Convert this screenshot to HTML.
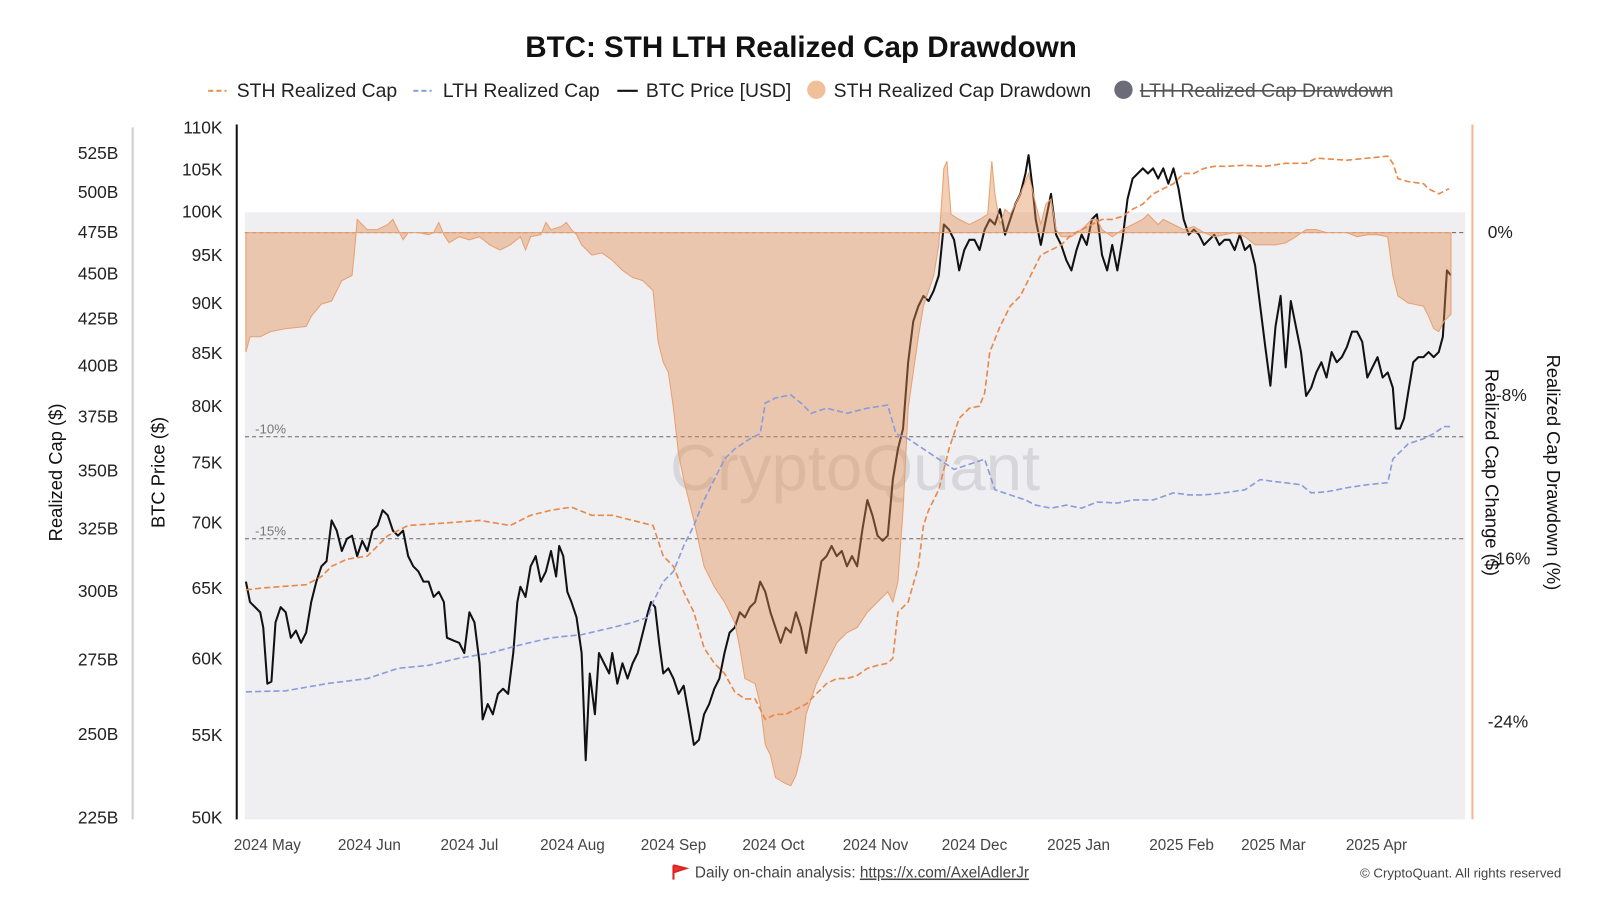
<!DOCTYPE html>
<html><head><meta charset="utf-8"><style>
body{margin:0;background:#fff;font-family:"Liberation Sans",sans-serif}
svg{display:block}
</style></head><body>
<svg width="1600" height="900" xmlns="http://www.w3.org/2000/svg" font-family="Liberation Sans, sans-serif">
<g transform="scale(1.0204)">
<text x="785" y="56" text-anchor="middle" font-size="29" font-weight="bold" fill="#111">BTC: STH LTH Realized Cap Drawdown</text>
<g font-size="19" fill="#222">
<line x1="204" y1="89" x2="222" y2="89" stroke="#e8955a" stroke-width="2" stroke-dasharray="5,3"/><text x="232" y="95">STH Realized Cap</text>
<line x1="405" y1="89" x2="423" y2="89" stroke="#8fa0dc" stroke-width="2" stroke-dasharray="5,3"/><text x="434" y="95">LTH Realized Cap</text>
<line x1="605" y1="89" x2="625" y2="89" stroke="#111" stroke-width="2"/><text x="633" y="95">BTC Price [USD]</text>
<circle cx="800" cy="88" r="9" fill="#efc09a"/><text x="817" y="95">STH Realized Cap Drawdown</text>
<circle cx="1101" cy="88" r="9" fill="#6c6c78"/><text x="1117" y="95" fill="#555">LTH Realized Cap Drawdown</text>
<line x1="1117" y1="89" x2="1363" y2="89" stroke="#555" stroke-width="1.5"/>
</g>
<rect x="240" y="208" width="1196" height="595" fill="#efeff2"/>
<text x="838" y="480" text-anchor="middle" font-size="64" fill="#c8c8cc" opacity="0.6">CryptoQuant</text>
<g stroke="#666" stroke-width="1" stroke-dasharray="4,3">
<line x1="240" y1="228" x2="1436" y2="228"/><line x1="240" y1="428" x2="1436" y2="428"/><line x1="240" y1="528" x2="1436" y2="528"/>
</g>
<text x="250" y="425" font-size="13" fill="#777">-10%</text>
<text x="250" y="525" font-size="13" fill="#777">-15%</text>
<polyline fill="none" stroke="#111" stroke-width="2" stroke-linejoin="round" points="241,570 245,590 250,595 255,600 258,615 262,670 266,668 270,610 275,595 280,600 285,625 290,618 295,630 300,620 305,590 310,570 315,555 320,550 325,510 330,520 335,540 340,528 345,525 350,545 355,530 360,540 365,520 370,515 375,500 380,505 385,520 390,525 395,520 400,545 405,555 410,560 415,570 420,570 425,585 430,580 435,590 438,625 445,628 450,630 455,640 460,600 465,610 470,650 473,705 478,690 483,700 488,680 493,675 498,680 503,640 507,590 510,575 515,585 520,555 525,545 530,570 535,560 540,540 545,565 548,535 552,545 556,580 560,590 565,605 570,640 574,745 578,660 583,700 587,640 592,650 597,660 600,640 605,670 610,650 615,665 620,650 625,640 630,620 635,600 638,590 642,595 646,630 650,660 655,655 660,665 665,680 670,672 675,700 680,730 685,725 690,700 695,690 700,675 705,665 710,640 715,620 720,615 725,600 730,605 735,595 740,590 745,570 750,580 755,600 760,615 765,630 770,615 775,620 780,600 785,615 790,640 795,610 800,580 805,550 810,545 815,535 820,545 825,540 830,555 835,545 840,555 845,520 850,490 855,505 860,525 865,530 870,525 875,470 880,440 885,420 890,355 895,315 900,300 905,290 910,295 915,285 920,270 925,220 930,225 935,235 940,265 945,245 950,235 955,235 960,245 965,225 970,215 975,220 980,205 985,230 990,215 995,200 1000,190 1005,170 1008,152 1012,185 1015,215 1020,240 1025,215 1030,190 1035,230 1040,240 1045,255 1050,265 1055,245 1060,230 1065,240 1070,215 1075,210 1080,250 1085,265 1090,240 1095,265 1100,235 1105,195 1110,175 1115,170 1120,165 1125,170 1130,165 1135,175 1140,165 1145,180 1150,165 1155,185 1160,215 1165,230 1170,225 1175,230 1180,240 1185,235 1190,230 1195,240 1200,235 1205,235 1210,245 1215,230 1220,245 1225,240 1230,260 1235,300 1240,340 1245,378 1250,320 1255,290 1260,360 1265,295 1270,320 1275,345 1280,388 1285,380 1290,365 1295,355 1300,370 1305,345 1310,355 1315,350 1320,340 1325,325 1330,325 1335,335 1340,370 1345,360 1350,350 1355,370 1360,365 1365,380 1368,420 1372,420 1376,410 1380,385 1385,355 1390,350 1395,350 1400,345 1405,350 1410,345 1414,330 1418,265 1422,270"/>
<polygon fill="rgba(226,140,80,0.42)" stroke="#e8a070" stroke-width="1" points="241,228 241,345 245,330 255,330 265,325 280,322 300,320 305,310 315,298 325,295 335,275 345,270 348,240 350,215 355,220 360,225 370,225 380,220 385,215 390,225 395,235 400,228 410,228 420,230 425,228 430,218 435,230 440,238 450,232 460,235 470,232 480,240 490,245 500,240 510,232 515,245 520,232 530,230 535,218 540,225 550,222 555,218 560,225 565,230 570,240 580,250 590,248 600,255 610,265 620,272 630,275 640,285 645,335 650,355 655,365 660,400 665,445 670,470 680,510 690,555 700,575 710,590 715,600 720,610 725,635 730,665 740,670 745,690 750,730 755,740 760,762 770,768 775,770 780,760 785,740 790,700 800,670 810,650 820,630 830,620 840,615 850,600 860,590 870,580 875,590 880,570 885,500 890,400 900,330 905,300 910,285 915,270 920,240 925,165 928,158 932,210 940,215 950,220 960,215 968,210 972,158 975,190 980,220 985,205 990,210 1000,190 1008,170 1015,200 1020,220 1025,200 1030,195 1035,225 1040,232 1050,232 1060,225 1070,215 1075,215 1080,225 1090,232 1100,225 1110,220 1120,215 1125,210 1130,215 1135,220 1140,215 1150,220 1160,225 1170,222 1180,228 1190,232 1200,230 1210,228 1220,232 1230,240 1240,240 1250,240 1260,238 1270,232 1280,225 1290,225 1300,228 1320,228 1330,232 1340,230 1350,230 1360,232 1365,270 1370,290 1380,297 1395,300 1400,310 1405,322 1410,325 1415,315 1422,308 1422,228"/>
<polyline fill="none" stroke="#e8894a" stroke-width="1.6" stroke-dasharray="6,3" points="241,578 260,576 300,573 315,565 325,555 340,548 360,545 380,525 400,515 430,513 470,510 500,515 520,505 540,500 560,497 580,505 600,505 620,510 640,515 650,545 660,555 670,580 680,600 690,635 700,650 710,660 720,678 730,685 740,685 750,705 760,700 770,700 780,695 790,690 800,680 810,670 820,665 830,665 840,662 850,655 860,652 870,650 875,645 880,600 890,590 900,555 905,515 910,500 920,480 930,440 940,410 950,400 960,398 965,385 970,345 980,320 990,300 1000,290 1010,270 1020,250 1030,245 1040,240 1050,230 1060,225 1070,220 1080,215 1090,215 1100,212 1110,205 1120,200 1130,190 1140,185 1150,180 1160,170 1170,170 1180,165 1190,163 1200,163 1220,162 1240,163 1260,160 1280,160 1290,155 1320,157 1340,155 1360,153 1365,160 1370,175 1380,178 1395,180 1400,185 1410,190 1420,185"/>
<polyline fill="none" stroke="#8b9cdc" stroke-width="1.6" stroke-dasharray="6,3" points="241,678 280,677 320,670 360,665 390,655 420,652 450,645 480,640 510,632 540,625 570,622 600,615 620,610 635,605 640,590 650,570 660,560 670,535 680,515 690,490 700,470 710,450 720,440 735,430 745,425 750,395 760,390 775,387 785,395 795,405 810,400 830,405 850,400 870,397 878,425 890,430 905,440 920,450 935,460 950,455 965,450 975,480 990,485 1005,490 1015,495 1030,498 1045,495 1060,498 1075,492 1095,493 1110,490 1130,490 1150,483 1165,485 1180,485 1200,483 1220,480 1235,470 1250,472 1275,475 1285,483 1300,482 1320,478 1340,475 1360,473 1365,450 1370,445 1380,435 1395,430 1405,425 1415,418 1422,418"/>
<line x1="130" y1="125" x2="130" y2="803" stroke="#ccccd4" stroke-width="2"/>
<line x1="232" y1="122" x2="232" y2="803" stroke="#111" stroke-width="2"/>
<line x1="1443" y1="122" x2="1443" y2="803" stroke="#f0b890" stroke-width="2"/>
<g font-size="17" fill="#222" text-anchor="end">
<text x="116" y="156">525B</text><text x="116" y="194">500B</text><text x="116" y="233">475B</text><text x="116" y="274">450B</text><text x="116" y="318">425B</text><text x="116" y="364">400B</text><text x="116" y="414">375B</text><text x="116" y="467">350B</text><text x="116" y="524">325B</text><text x="116" y="585">300B</text><text x="116" y="652">275B</text><text x="116" y="725">250B</text><text x="116" y="807">225B</text>
<text x="218" y="131">110K</text><text x="218" y="172">105K</text><text x="218" y="213">100K</text><text x="218" y="256">95K</text><text x="218" y="303">90K</text><text x="218" y="352">85K</text><text x="218" y="404">80K</text><text x="218" y="459">75K</text><text x="218" y="518">70K</text><text x="218" y="582">65K</text><text x="218" y="651">60K</text><text x="218" y="726">55K</text><text x="218" y="807">50K</text>
</g>
<g font-size="17" fill="#222">
<text x="1458" y="233">0%</text><text x="1466" y="393">-8%</text><text x="1460" y="553">-16%</text><text x="1458" y="713">-24%</text>
</g>
<g font-size="15" fill="#444" text-anchor="middle">
<text x="262" y="833">2024 May</text><text x="362" y="833">2024 Jun</text><text x="460" y="833">2024 Jul</text><text x="561" y="833">2024 Aug</text><text x="660" y="833">2024 Sep</text><text x="758" y="833">2024 Oct</text><text x="858" y="833">2024 Nov</text><text x="955" y="833">2024 Dec</text><text x="1057" y="833">2025 Jan</text><text x="1158" y="833">2025 Feb</text><text x="1248" y="833">2025 Mar</text><text x="1349" y="833">2025 Apr</text>
</g>
<g font-size="18" fill="#111" text-anchor="middle">
<text transform="translate(61,463) rotate(-90)">Realized Cap ($)</text>
<text transform="translate(161,463) rotate(-90)">BTC Price ($)</text>
<text transform="translate(1456,463) rotate(90)">Realized Cap Change ($)</text>
<text transform="translate(1516,463) rotate(90)">Realized Cap Drawdown (%)</text>
</g>
<path d="M660 848 L660 862 M660 848 L672 851 L660 855" stroke="#d22" stroke-width="2" fill="#e33"/>
<text x="681" y="860" font-size="15" fill="#444">Daily on-chain analysis: <tspan text-decoration="underline">https://x.com/AxelAdlerJr</tspan></text>
<text x="1530" y="860" font-size="13" fill="#444" text-anchor="end">© CryptoQuant. All rights reserved</text>
</g>
</svg>
</body></html>
